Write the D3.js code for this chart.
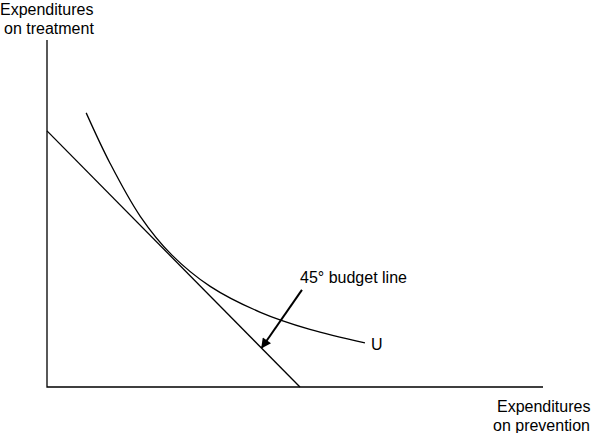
<!DOCTYPE html>
<html><head><meta charset="utf-8">
<script src="https://cdn.jsdelivr.net/npm/d3@7"></script>
<style>body{margin:0;background:#fff}text{font-family:"Liberation Sans",Arial,sans-serif;font-size:16px;fill:#000}</style>
</head><body><svg id="c" width="595" height="433"></svg>
<script>
// budget line and indifference curve, in axis units (0..100)
const budget = [[0, 73.8], [51, 0]];
const curveU = [[7.9, 79], [12.7, 64.5], [18.8, 49.2], [25.2, 38], [32.9, 29], [42.9, 21.6], [53, 16.6], [64.1, 12.7]];
const arrowPts = [[51.4, 28], [43.3, 11.3]];

const svg = d3.select('#c');
const x = d3.scaleLinear().domain([0, 100]).range([47, 543]);
const y = d3.scaleLinear().domain([0, 100]).range([387, 40]);

svg.append('defs').append('marker')
  .attr('id', 'ah').attr('viewBox', '0 0 10 10').attr('refX', 9).attr('refY', 5)
  .attr('markerWidth', 12).attr('markerHeight', 10).attr('markerUnits', 'userSpaceOnUse').attr('orient', 'auto')
  .append('path').attr('d', 'M0,0L10,5L0,10z').attr('fill', '#000');

// axes
svg.append('path').attr('d', `M${x(0)},${y(100)}V${y(0)}H${x(100)}`)
  .attr('fill', 'none').attr('stroke', '#000').attr('stroke-width', 1.3);

const line = d3.line().x(d => x(d[0])).y(d => y(d[1]));
svg.append('path').attr('d', line(budget)).attr('fill', 'none').attr('stroke', '#000').attr('stroke-width', 1.3);
svg.append('path').attr('d', line.curve(d3.curveCatmullRom)(curveU)).attr('fill', 'none').attr('stroke', '#000').attr('stroke-width', 1.3);
svg.append('path').attr('d', d3.line().x(d => x(d[0])).y(d => y(d[1]))(arrowPts))
  .attr('stroke', '#000').attr('stroke-width', 2).attr('marker-end', 'url(#ah)');

const txt = (t, px, py) => svg.append('text').attr('x', px).attr('y', py).text(t);
txt('Expenditures', 0, 15);
txt('on treatment', 4, 34);
txt('Expenditures', 497, 412);
txt('on prevention', 493, 431);
txt('45° budget line', 300, 283);
txt('U', 371, 350);
</script></body></html>
